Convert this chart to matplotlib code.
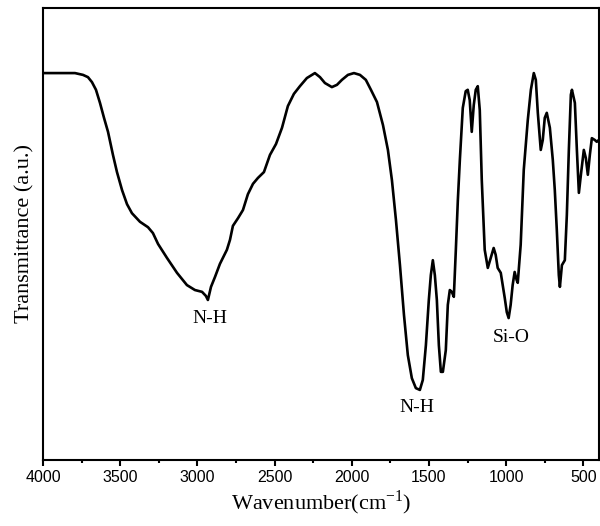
import matplotlib
matplotlib.use("Agg")
import matplotlib.pyplot as plt
from matplotlib.ticker import MultipleLocator

# FTIR spectrum (wavenumber in cm-1, transmittance in a.u.)
wavenumber = [4000, 3890, 3793, 3741, 3709, 3683, 3657, 3631, 3605, 3579,
              3547, 3521, 3488, 3456, 3424, 3372, 3320, 3288, 3255, 3197,
              3132, 3068, 3016, 2970, 2945, 2932, 2912, 2886, 2854, 2809,
              2789, 2770, 2737, 2705, 2673, 2640, 2608, 2569, 2530, 2491,
              2452, 2414, 2375, 2336, 2291, 2239, 2206, 2174, 2129, 2096,
              2064, 2025, 1986, 1947, 1909, 1876, 1837, 1798, 1766, 1740,
              1714, 1688, 1662, 1637, 1611, 1585, 1559, 1540, 1520, 1501,
              1488, 1475, 1462, 1449, 1436, 1423, 1410, 1391, 1378, 1365,
              1352, 1339, 1326, 1313, 1300, 1281, 1262, 1249, 1236, 1223,
              1210, 1197, 1184, 1171, 1158, 1139, 1119, 1100, 1081, 1068,
              1055, 1035, 1009, 996, 984, 971, 958, 945, 932, 925,
              906, 886, 860, 840, 821, 808, 795, 776, 763, 750,
              737, 717, 698, 685, 672, 659, 652, 639, 620, 607,
              594, 581, 574, 555, 542, 529, 516, 497, 484, 471,
              458, 445, 426, 413, 400]
transmittance = [85.6, 85.6, 85.6, 85.2, 84.7, 83.6, 81.9, 79.0, 75.7, 72.6,
                 67.5, 63.7, 59.7, 56.6, 54.6, 52.7, 51.5, 50.2, 47.8, 44.7,
                 41.4, 38.7, 37.6, 37.2, 36.3, 35.4, 38.3, 40.5, 43.4, 46.5,
                 48.7, 51.8, 53.5, 55.3, 58.8, 61.1, 62.4, 63.7, 67.5, 69.9,
                 73.5, 78.3, 81.0, 82.7, 84.5, 85.6, 84.7, 83.4, 82.5, 83.0,
                 84.1, 85.2, 85.6, 85.2, 84.1, 81.9, 79.2, 74.1, 68.6, 61.9,
                 53.1, 43.1, 32.1, 23.2, 18.1, 15.9, 15.5, 17.7, 25.4, 35.4,
                 40.9, 44.2, 40.9, 35.4, 25.4, 19.5, 19.5, 24.3, 34.3, 37.6,
                 37.2, 36.1, 46.5, 57.5, 66.4, 77.9, 81.6, 81.9, 79.6, 72.6,
                 78.5, 81.9, 82.7, 77.4, 61.9, 46.5, 42.5, 44.7, 46.9, 45.4,
                 42.5, 41.4, 35.8, 32.7, 31.4, 34.3, 38.7, 41.6, 39.8, 39.2,
                 47.6, 64.2, 75.2, 81.9, 85.6, 84.1, 76.8, 68.6, 70.8, 75.7,
                 76.8, 73.5, 66.4, 59.7, 50.9, 40.9, 38.3, 43.1, 44.2, 54.2,
                 68.6, 80.8, 81.9, 79.0, 68.6, 59.1, 63.1, 68.6, 66.8, 63.1,
                 67.5, 71.2, 70.8, 70.4, 70.8]

# peak labels
peak_names = ["N-H", "N-H", "Si-O"]
peak_x = [2919, 1580, 965]
peak_y = [31.4, 11.7, 27.2]

xticks = [4000, 3500, 3000, 2500, 2000, 1500, 1000, 500]

serif = "Liberation Serif"

fig = plt.figure(figsize=(6.0, 5.26), dpi=100)
ax = fig.add_axes([0.0717, 0.1255, 0.9263, 0.8593])

ax.plot(wavenumber, transmittance, color="black", linewidth=1.9,
        solid_joinstyle="round")

for name, x, y in zip(peak_names, peak_x, peak_y):
    ax.text(x, y, name, ha="center", va="center", fontsize=14, family=serif)

ax.set_xlim(4000, 400)
ax.set_ylim(0, 100)
ax.set_xticks(xticks)
ax.xaxis.set_minor_locator(MultipleLocator(250))
ax.set_yticks([])
ax.tick_params(axis="x", which="major", direction="out", length=4.5,
               width=1.5, labelsize=11.5, pad=3)
ax.tick_params(axis="x", which="minor", direction="out", length=2.5, width=1.5)
for lab in ax.get_xticklabels():
    lab.set_family("Liberation Sans")

for sp in ax.spines.values():
    sp.set_linewidth(1.5)

ax.set_xlabel("Wavenumber(cm$^{\\mathregular{-1}}$)", fontsize=16,
              family=serif, labelpad=2)
ax.set_ylabel("Transmittance (a.u.)", fontsize=16, family=serif, labelpad=6)

fig.savefig("out.png", dpi=100)
